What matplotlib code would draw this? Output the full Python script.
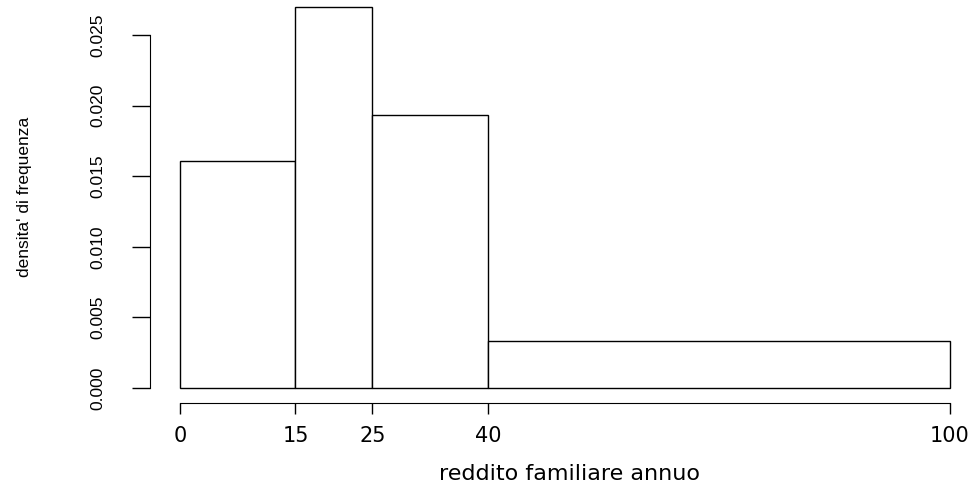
import numpy as np
import matplotlib.pyplot as plt

# class breaks and frequency densities
breaks = [0, 15, 25, 40, 100]
density = [0.01607, 0.0270, 0.01933, 0.00333]
x_ticks = [0, 15, 25, 40, 100]
y_ticks = [0.000, 0.005, 0.010, 0.015, 0.020, 0.025]
y_ticklabels = ["0.000", "0.005", "0.010", "0.015", "0.020", "0.025"]

W, H = 978, 487
PT = 72 / 100  # points per pixel at dpi 100
AX_L, AX_B, AX_W, AX_H = 180, 388, 770, 353  # plot box in pixels (from top-left)
fig = plt.figure(figsize=(W / 100, H / 100), dpi=100)
ax = fig.add_axes([AX_L / W, (H - AX_B) / H, AX_W / W, AX_H / H])

lefts = np.array(breaks[:-1])
widths = np.diff(breaks)
ax.bar(lefts, density, width=widths, align="edge", facecolor="white",
       edgecolor="black", linewidth=1.0, clip_on=False)

ax.set_xlim(0, 100)
ax.set_ylim(0, 0.025)

for s in ["top", "right"]:
    ax.spines[s].set_visible(False)
ax.spines["left"].set_position(("outward", 30 * PT))
ax.spines["bottom"].set_position(("outward", 15 * PT))
ax.spines["left"].set_bounds(0, 0.025)
ax.spines["bottom"].set_bounds(0, 100)

ax.set_xticks(x_ticks)
ax.set_xticklabels([str(v) for v in x_ticks], fontfamily="DejaVu Sans", fontsize=15)
ax.set_yticks(y_ticks)
ax.set_yticklabels(y_ticklabels, rotation=90, va="center",
                   fontfamily="Liberation Sans", fontsize=12.5)
ax.tick_params(axis="x", length=11 * PT, width=1.0, pad=9)
ax.tick_params(axis="y", length=18 * PT, width=1.0, pad=19.5)

ax.set_xlabel("reddito familiare annuo", fontfamily="DejaVu Sans", fontsize=16)
ax.xaxis.set_label_coords((570 - AX_L) / AX_W, (AX_B - 464) / AX_H)
ax.set_ylabel("densita' di frequenza", fontfamily="Liberation Sans", fontsize=12.5)
ax.yaxis.set_label_coords((32 - AX_L) / AX_W, (AX_B - 197) / AX_H)

fig.savefig("out.png", dpi=100)
